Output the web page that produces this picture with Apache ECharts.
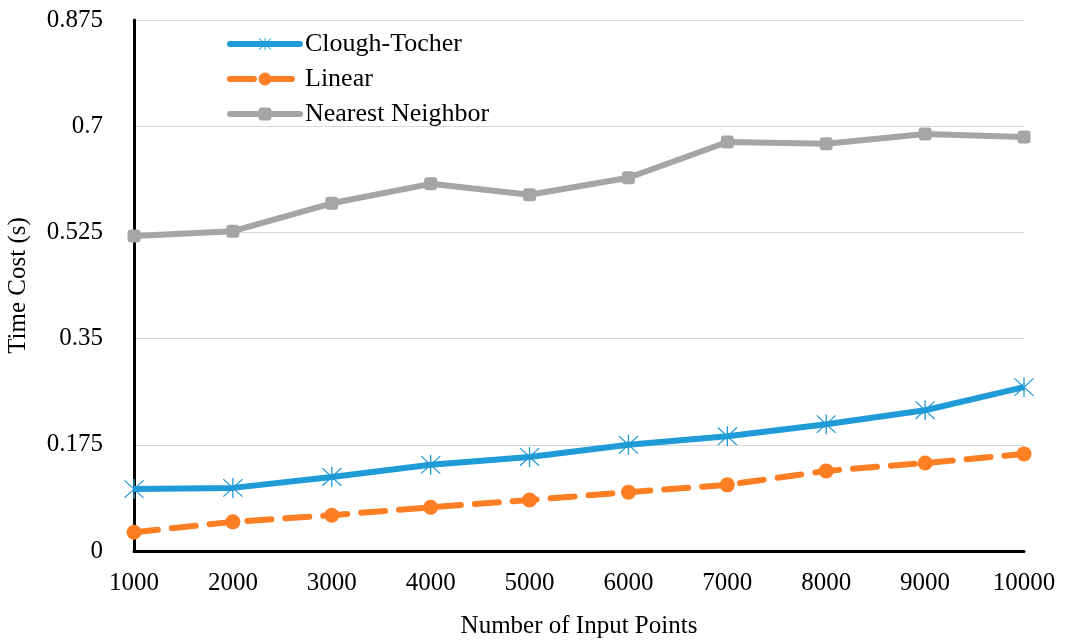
<!DOCTYPE html>
<html><head><meta charset="utf-8">
<script src="https://cdn.jsdelivr.net/npm/echarts@6/dist/echarts.min.js"></script>
<style>html,body{margin:0;padding:0;background:#fff}#c{width:1067px;height:641px}</style>
</head><body><div id="c"></div>
<script>
var categories = ['1000','2000','3000','4000','5000','6000','7000','8000','9000','10000'];
var cloughTocher = [0.102,0.104,0.122,0.142,0.155,0.175,0.189,0.209,0.232,0.270];
var linear = [0.031,0.048,0.059,0.072,0.084,0.097,0.109,0.132,0.145,0.160];
var nearest = [0.519,0.527,0.573,0.605,0.587,0.615,0.674,0.671,0.687,0.682];
var yTicks = [0,0.175,0.35,0.525,0.7,0.875];

var star = 'path://M9.4 0 L10.6 0 L10.6 20 L9.4 20 Z M0.8 1.6 L1.6 0.8 L19.2 18.4 L18.4 19.2 Z M18.4 0.8 L19.2 1.6 L1.6 19.2 L0.8 18.4 Z';
var font = 'Liberation Serif';
var chart = echarts.init(document.getElementById('c'));
chart.setOption({
  animation:false,
  textStyle:{fontFamily:font},
  grid:{left:134,right:43,top:20,bottom:90,outerBoundsMode:'none',containLabel:false},
  legend:{
    orient:'vertical', left:222, top:26, itemWidth:70, itemHeight:16, itemGap:9,
    textStyle:{fontFamily:font,fontSize:26,color:'#000'},
    lineStyle:{width:6,cap:'round'},
    data:['Clough-Tocher','Linear','Nearest Neighbor']
  },
  xAxis:{
    type:'category', data:categories, boundaryGap:false,
    name:'Number of Input Points', nameLocation:'middle', nameGap:63,
    nameTextStyle:{fontFamily:font,fontSize:25,color:'#000'},
    axisLine:{lineStyle:{color:'#000',width:3}},
    axisTick:{show:false},
    axisLabel:{fontFamily:font,fontSize:25,color:'#000',margin:20},
    splitLine:{show:false}
  },
  yAxis:{
    type:'value', min:0, max:0.875, interval:0.175,
    name:'Time Cost (s)', nameLocation:'middle', nameGap:103,
    nameTextStyle:{fontFamily:font,fontSize:25,color:'#000'},
    axisLine:{show:true,lineStyle:{color:'#000',width:3}},
    axisTick:{show:false},
    axisLabel:{fontFamily:font,fontSize:25,color:'#000',margin:31,
      formatter:function(v){return String(parseFloat(v.toFixed(3)));}},
    splitLine:{lineStyle:{color:'#d9d9d9',width:1}}
  },
  series:[
    {name:'Clough-Tocher',type:'line',data:cloughTocher,symbol:star,symbolSize:20,
     lineStyle:{color:'#1f9bd7',width:6},itemStyle:{color:'#1f9bd7'},z:3},
    {name:'Linear',type:'line',data:linear,symbol:'circle',symbolSize:15,
     lineStyle:{color:'#fd7e23',width:6,type:[24,14],cap:'round'},itemStyle:{color:'#fd7e23'},z:2},
    {name:'Nearest Neighbor',type:'line',data:nearest,symbol:'roundRect',symbolSize:13,
     lineStyle:{color:'#a5a5a5',width:6},itemStyle:{color:'#a5a5a5'},z:1}
  ]
});
</script></body></html>
